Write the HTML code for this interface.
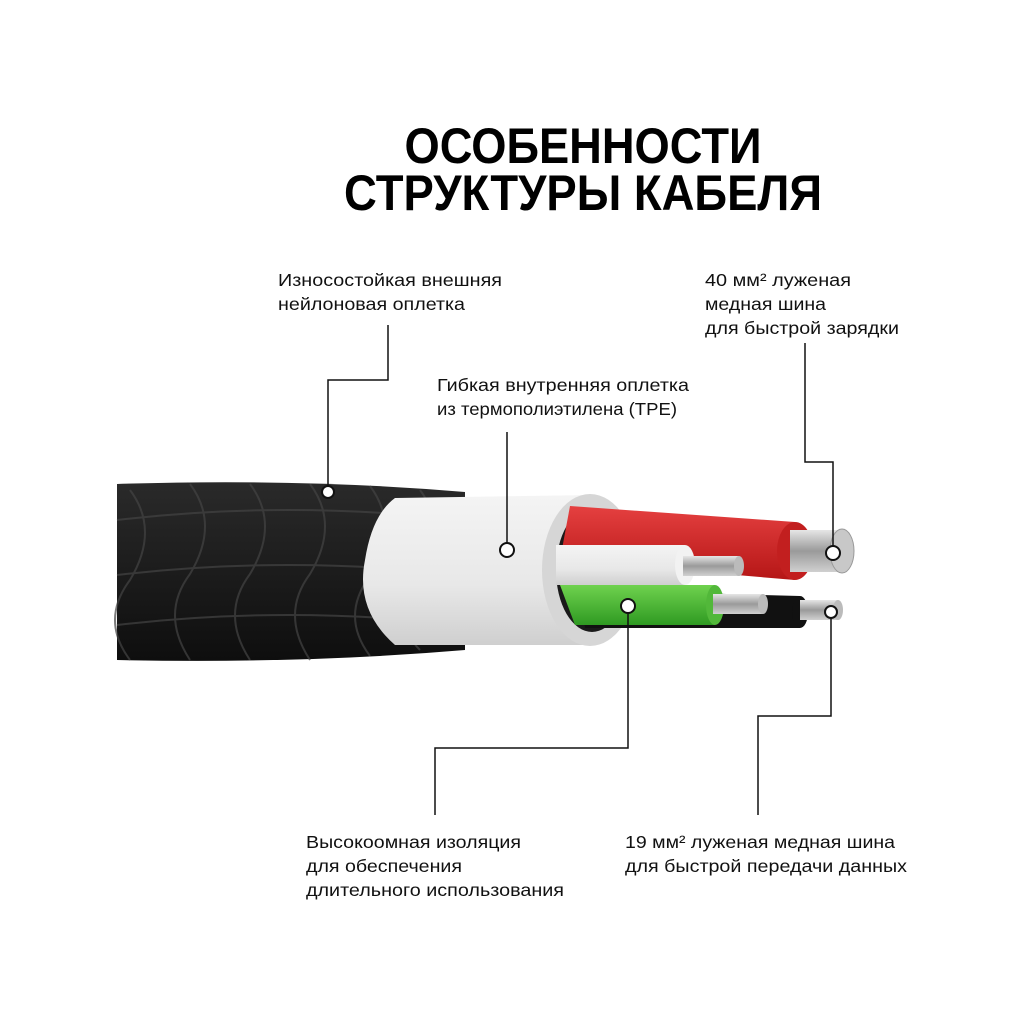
<!DOCTYPE html>
<html><head><meta charset="utf-8"><style>
html,body{margin:0;padding:0;background:#fff;}
svg{display:block}
.t{font-family:"Liberation Sans Narrow","Liberation Sans","DejaVu Sans",sans-serif;font-weight:bold;font-size:50px;fill:#000}
.l{font-family:"Liberation Sans","DejaVu Sans",sans-serif;font-size:17.5px;fill:#111}
</style></head><body>
<svg width="1024" height="1024" viewBox="0 0 1024 1024" xmlns="http://www.w3.org/2000/svg">
<defs>
<linearGradient id="blk" x1="0" y1="0" x2="0" y2="1"><stop offset="0" stop-color="#2a2a2a"/><stop offset="0.5" stop-color="#1c1c1c"/><stop offset="1" stop-color="#0e0e0e"/></linearGradient>
<linearGradient id="wht" x1="0" y1="0" x2="0" y2="1"><stop offset="0" stop-color="#f4f4f4"/><stop offset="0.6" stop-color="#e8e8e8"/><stop offset="1" stop-color="#cfcfcf"/></linearGradient>
<linearGradient id="red" x1="0" y1="0" x2="0" y2="1"><stop offset="0" stop-color="#e54040"/><stop offset="1" stop-color="#b51616"/></linearGradient>
<linearGradient id="grn" x1="0" y1="0" x2="0" y2="1"><stop offset="0" stop-color="#6fd24e"/><stop offset="1" stop-color="#2f9a22"/></linearGradient>
<linearGradient id="sil" x1="0" y1="0" x2="0" y2="1"><stop offset="0" stop-color="#e6e6e6"/><stop offset="0.5" stop-color="#9a9a9a"/><stop offset="1" stop-color="#d0d0d0"/></linearGradient>
</defs>
<text class="t" x="583" y="163" text-anchor="middle" textLength="357" lengthAdjust="spacingAndGlyphs">ОСОБЕННОСТИ</text>
<text class="t" x="583" y="210" text-anchor="middle" textLength="478" lengthAdjust="spacingAndGlyphs">СТРУКТУРЫ  КАБЕЛЯ</text>

<text class="l" x="278" y="286" textLength="224" lengthAdjust="spacingAndGlyphs">Износостойкая внешняя</text>
<text class="l" x="278" y="310" textLength="187" lengthAdjust="spacingAndGlyphs">нейлоновая оплетка</text>
<text class="l" x="705" y="286" textLength="146" lengthAdjust="spacingAndGlyphs">40 мм² луженая</text>
<text class="l" x="705" y="310" textLength="121" lengthAdjust="spacingAndGlyphs">медная шина</text>
<text class="l" x="705" y="334" textLength="194" lengthAdjust="spacingAndGlyphs">для быстрой зарядки</text>
<text class="l" x="437" y="391" textLength="252" lengthAdjust="spacingAndGlyphs">Гибкая внутренняя оплетка</text>
<text class="l" x="437" y="415" textLength="240" lengthAdjust="spacingAndGlyphs">из термополиэтилена (TPE)</text>
<text class="l" x="306" y="848" textLength="215" lengthAdjust="spacingAndGlyphs">Высокоомная изоляция</text>
<text class="l" x="306" y="872" textLength="156" lengthAdjust="spacingAndGlyphs">для обеспечения</text>
<text class="l" x="306" y="896" textLength="258" lengthAdjust="spacingAndGlyphs">длительного использования</text>
<text class="l" x="625" y="848" textLength="270" lengthAdjust="spacingAndGlyphs">19 мм² луженая медная шина</text>
<text class="l" x="625" y="872" textLength="282" lengthAdjust="spacingAndGlyphs">для быстрой передачи данных</text>

<path d="M117 484 Q300 478 465 492 L465 650 Q300 664 117 660 Z" fill="url(#blk)"/>
<g fill="none" stroke="#444" stroke-width="2" opacity="0.7">
<path d="M130 490 q30 40 0 90 q-30 40 0 80"/><path d="M190 484 q30 40 0 90 q-30 40 0 86"/>
<path d="M250 484 q30 40 0 90 q-30 40 0 86"/><path d="M310 484 q30 40 0 90 q-30 40 0 86"/>
<path d="M370 486 q30 40 0 90 q-30 40 0 80"/><path d="M420 490 q30 40 0 90 q-30 40 0 70"/>
<path d="M117 520 q170 -20 345 0"/><path d="M117 575 q170 -20 345 0"/><path d="M117 625 q170 -20 345 0"/>
</g>
<path d="M395 498 L595 495 L595 645 L395 645 Q355 610 365 560 Q372 515 395 498 Z" fill="url(#wht)"/>
<ellipse cx="590" cy="570" rx="48" ry="76" fill="#d6d6d6"/>
<ellipse cx="592" cy="570" rx="36" ry="62" fill="#1a1a1a"/>
<path d="M580 590 L800 596 L800 628 L585 628 Z" fill="#111"/>
<ellipse cx="800" cy="612" rx="8" ry="16" fill="#111"/>
<path d="M570 506 L795 522 L795 580 L560 560 Z" fill="url(#red)"/>
<ellipse cx="795" cy="551" rx="18" ry="29" fill="#c21f1f"/>
<path d="M556 545 L685 545 L685 585 L556 585 Z" fill="url(#wht)"/>
<ellipse cx="685" cy="565" rx="10" ry="20" fill="#f2f2f2"/>
<path d="M560 585 L715 585 L715 625 L575 625 Z" fill="url(#grn)"/>
<ellipse cx="715" cy="605" rx="9" ry="20" fill="#52b83a"/>
<rect x="683" y="556" width="56" height="20" fill="url(#sil)"/><ellipse cx="739" cy="566" rx="5" ry="10" fill="#bbb"/>
<rect x="713" y="594" width="50" height="20" fill="url(#sil)"/><ellipse cx="763" cy="604" rx="5" ry="10" fill="#bbb"/>
<rect x="800" y="600" width="38" height="20" fill="url(#sil)"/><ellipse cx="838" cy="610" rx="5" ry="10" fill="#bbb"/>
<rect x="790" y="530" width="50" height="42" fill="url(#sil)"/><ellipse cx="842" cy="551" rx="12" ry="22" fill="#c8c8c8" stroke="#999"/>
<g fill="none" stroke="#111" stroke-width="1.5">
<polyline points="388,325 388,380 328,380 328,492"/>
<line x1="507" y1="432" x2="507" y2="550"/>
<polyline points="805,343 805,462 833,462 833,553"/>
<polyline points="628,606 628,748 435,748 435,815"/>
<polyline points="831,612 831,716 758,716 758,815"/>
</g>
<g fill="#fff" stroke="#111" stroke-width="2">
<circle cx="328" cy="492" r="6"/><circle cx="507" cy="550" r="7"/><circle cx="833" cy="553" r="7"/>
<circle cx="628" cy="606" r="7"/><circle cx="831" cy="612" r="6"/>
</g>
</svg>
</body></html>
